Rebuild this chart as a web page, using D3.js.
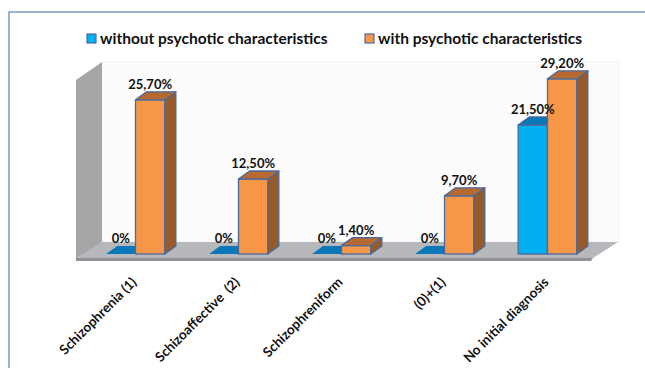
<!DOCTYPE html>
<html lang="en">
<head>
<meta charset="UTF-8">
<script src="https://d3js.org/d3.v7.min.js"></script>
<title>Initial diagnosis</title>
<style>
    body { margin: 0; background: white; }
    svg text { font-family: Lato, "Open Sans", sans-serif; font-weight: bold; fill: #111; white-space: pre; }
</style>
</head>
<body>
<div id="chart"></div>
<script>
    /*------------------- data --------------------*/
    const categories = ["Schizophrenia (1)", "Schizoaffective  (2)", "Schizophreniform", "(0)+(1)", "No initial diagnosis"];
    const seriesNames = ["without psychotic characteristics", "with psychotic characteristics"];
    const withoutPsychotic = [0, 0, 0, 0, 21.5];
    const withPsychotic = [25.7, 12.5, 1.4, 9.7, 29.2];

    /*------------------- sizes -------------------*/
    const width = 645, height = 368;
    const depth = { dx: 11, dy: -8 };

    const colors = [
        { front: "#00b0f0", top: "#0a78b8", side: "#0585b5" },
        { front: "#f79646", top: "#b8692f", side: "#975a2a" }
    ];
    const outline = "#4a6b9e";

    const svg = d3.select("#chart").append("svg")
        .attr("width", width)
        .attr("height", height);

    // outer frame (only left and top edges show)
    svg.append("path")
        .attr("d", "M9,368 L9,12 L645,12")
        .attr("fill", "none")
        .attr("stroke", "#7b96c8")
        .attr("stroke-width", 1.5);

    /*------------------- scales ------------------*/
    const x = d3.scaleBand()
        .domain(categories)
        .range([84, 599])
        .paddingInner(0.43)
        .paddingOuter(0.215);

    const xSub = d3.scaleBand()
        .domain(seriesNames)
        .range([0, x.bandwidth()]);

    const y = d3.scaleLinear()
        .domain([0, 30])
        .range([254, 74]);

    /*------------------- walls & floor -----------*/
    const wallTop = y(32);
    const floorBack = y(0) - 12, floorFront = y(0) + 4;
    const left = x.range()[0] - 8, right = x.range()[1] - 7;
    const back = { dx: 26 };

    // back wall
    svg.append("rect")
        .attr("x", left + back.dx).attr("y", wallTop)
        .attr("width", right - left).attr("height", floorBack - wallTop)
        .attr("fill", "#fcfcfc")
        .attr("stroke", "#f2f2f2");

    // left side wall
    svg.append("polygon")
        .attr("points", [
            [left, wallTop + 18], [left + back.dx, wallTop],
            [left + back.dx, floorBack], [left, floorFront + 3]
        ].join(" "))
        .attr("fill", "#a6a6a6");

    // floor top
    svg.append("polygon")
        .attr("points", [
            [left + back.dx, floorBack], [right + back.dx, floorBack],
            [right + 1, floorFront], [left, floorFront]
        ].join(" "))
        .attr("fill", "#b6b8bb");

    // floor front edge
    svg.append("polygon")
        .attr("points", [
            [left, floorFront], [right + 1, floorFront],
            [right - 1, floorFront + 3], [left, floorFront + 3]
        ].join(" "))
        .attr("fill", "#909295");

    /*------------------- bars --------------------*/
    const rows = [];
    categories.forEach((c, i) => {
        rows.push({ cat: c, s: 0, v: withoutPsychotic[i] });
        rows.push({ cat: c, s: 1, v: withPsychotic[i] });
    });

    const bars = svg.selectAll("g.bar")
        .data(rows)
        .enter()
        .append("g")
        .attr("class", "bar");

    bars.each(function (d) {
        const g = d3.select(this);
        const x0 = x(d.cat) + xSub(seriesNames[d.s]);
        const w = xSub.bandwidth();
        const yt = y(d.v), yb = y(0);
        const col = colors[d.s];

        if (d.v > 0) {
            g.append("rect")
                .attr("x", x0).attr("y", yt)
                .attr("width", w).attr("height", yb - yt)
                .attr("fill", col.front)
                .attr("stroke", outline).attr("stroke-width", 1.3);
            g.append("polygon")
                .attr("points", [
                    [x0 + w, yt], [x0 + w + depth.dx, yt + depth.dy],
                    [x0 + w + depth.dx, yb + depth.dy], [x0 + w, yb]
                ].join(" "))
                .attr("fill", col.side)
                .attr("stroke", outline).attr("stroke-width", 1.3)
                .attr("stroke-linejoin", "round");
        }
        g.append("polygon")
            .attr("points", [
                [x0, yt], [x0 + depth.dx, yt + depth.dy],
                [x0 + w + depth.dx, yt + depth.dy], [x0 + w, yt]
            ].join(" "))
            .attr("fill", col.top)
            .attr("stroke", d.v > 0 ? outline : "none").attr("stroke-width", 1.3)
            .attr("stroke-linejoin", "round");
    });

    // value labels
    const fmt = v => v === 0 ? "0%" : v.toFixed(2).replace(".", ",") + "%";
    svg.selectAll("text.value")
        .data(rows)
        .enter()
        .append("text")
        .attr("class", "value")
        .attr("x", d => x(d.cat) + xSub(seriesNames[d.s]) + xSub.bandwidth() / 2)
        .attr("y", d => y(d.v) - 11)
        .attr("text-anchor", "middle")
        .style("font-size", "13px")
        .text(d => fmt(d.v));

    /*------------------- category labels ---------*/
    svg.selectAll("text.cat")
        .data(categories)
        .enter()
        .append("text")
        .attr("class", "cat")
        .attr("text-anchor", "end")
        .attr("transform", d => `translate(${x(d) + x.bandwidth() / 2 + 2},${y(0) + 29}) rotate(-45)`)
        .style("font-size", "13.5px")
        .text(d => d);

    /*------------------- legend ------------------*/
    const legendX = [87, 365];
    const legend = svg.selectAll("g.legend")
        .data(seriesNames)
        .enter()
        .append("g")
        .attr("class", "legend")
        .attr("transform", (d, i) => `translate(${legendX[i]},34)`);

    legend.append("rect")
        .attr("width", 9).attr("height", 9)
        .attr("fill", (d, i) => colors[i].front)
        .attr("stroke", outline).attr("stroke-width", 1.2);

    legend.append("text")
        .attr("x", 13).attr("y", 9.5)
        .style("font-size", "15.5px")
        .text(d => d);
</script>
</body>
</html>
